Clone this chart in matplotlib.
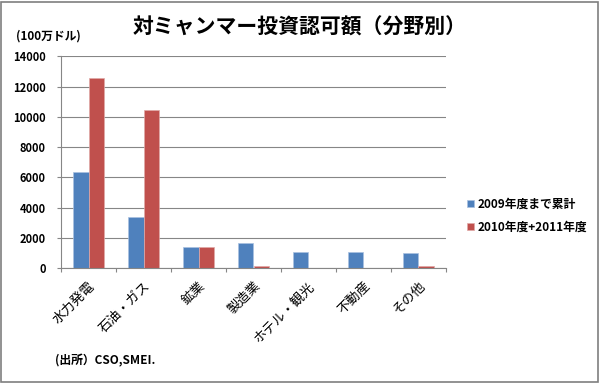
import numpy as np
import matplotlib.pyplot as plt

plt.rcParams['font.family'] = ['Noto Sans CJK JP', 'DejaVu Sans']

categories = ['水力発電', '石油・ガス', '鉱業', '製造業', 'ホテル・観光', '不動産', 'その他']
until_2009 = [6350, 3370, 1400, 1670, 1100, 1100, 990]
fy2010_2011 = [12600, 10450, 1400, 160, 0, 0, 150]
series_names = ['2009年度まで累計', '2010年度+2011年度']
yticks = [0, 2000, 4000, 6000, 8000, 10000, 12000, 14000]

blue = '#4F81BD'
red = '#C0504D'
gray = '#868686'

fig = plt.figure(figsize=(6, 3.83), dpi=100)
ax = fig.add_axes([0.1017, 0.2995, 0.6416, 0.5535])

x = np.arange(len(categories))
w = 0.28
ax.bar(x - w / 2, until_2009, w, color=blue, edgecolor='#a9c1e0', linewidth=0.5,
       label=series_names[0])
ax.bar(x + w / 2, fy2010_2011, w, color=red, edgecolor='#e0a9a7', linewidth=0.5,
       label=series_names[1])

ax.set_xlim(-0.5, len(categories) - 0.5)
ax.set_ylim(0, 14000)
ax.set_yticks(yticks)
ax.set_yticklabels([str(v) for v in yticks], fontsize=8, fontweight='bold')
ax.yaxis.grid(True, color=gray, linewidth=0.8)
ax.set_axisbelow(True)

# category boundaries get the tick marks, names sit in between
ax.set_xticks(np.arange(len(categories) + 1) - 0.5)
ax.set_xticklabels([])
ax.set_xticks(x, minor=True)
ax.set_xticklabels(categories, minor=True, rotation=45, ha='right',
                   rotation_mode='anchor', fontsize=9.5)
ax.tick_params(axis='x', which='minor', length=0, pad=8)
ax.tick_params(axis='x', which='major', length=3, color=gray)
ax.tick_params(axis='y', length=3, color=gray, pad=8)

for side in ['top', 'right']:
    ax.spines[side].set_visible(False)
for side in ['left', 'bottom']:
    ax.spines[side].set_color(gray)

fig.legend(loc='upper left', bbox_to_anchor=(0.76, 0.512), frameon=False,
           handlelength=0.6, handleheight=0.6, handletextpad=0.35,
           labelspacing=0.85, prop={'size': 8.5, 'weight': 'bold'})

fig.text(0.5, 0.9295, '対ミャンマー投資認可額（分野別）', ha='center', va='center',
         fontsize=15, fontweight='bold')
fig.text(0.027, 0.906, '(100万ドル)', ha='left', va='center', fontsize=8.5,
         fontweight='bold')
fig.text(0.092, 0.0574, '(出所）CSO,SMEI.', ha='left', va='center', fontsize=8.5,
         fontweight='bold')

# gray frame around the whole figure
fig.patches.append(plt.Rectangle((0.002, 0.003), 0.995, 0.993, transform=fig.transFigure,
                                 fill=False, edgecolor='#7f7f7f', linewidth=1.2))

fig.savefig('out.png', dpi=100)
